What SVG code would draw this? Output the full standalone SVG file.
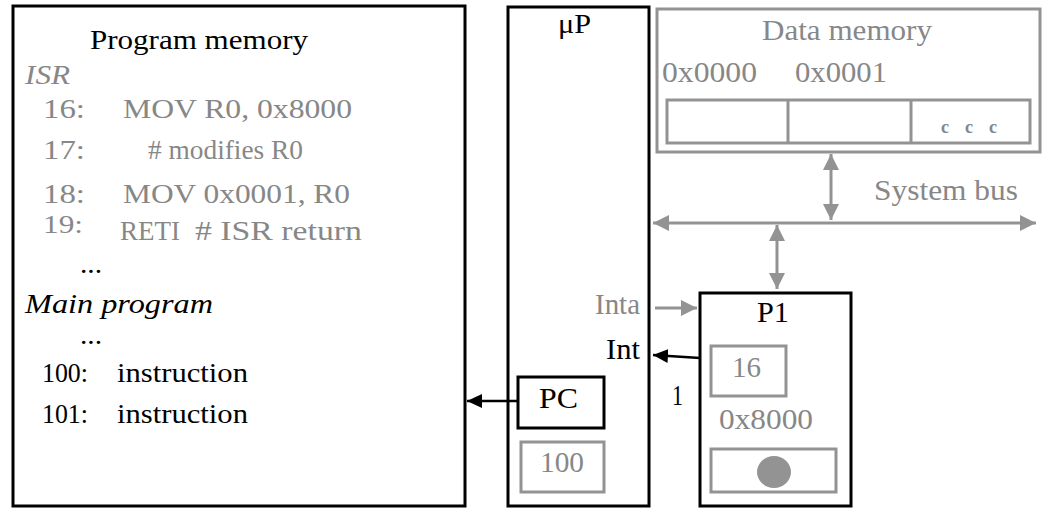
<svg xmlns="http://www.w3.org/2000/svg" width="1045" height="508" viewBox="0 0 1045 508">
<style>
text{font-family:"Liberation Serif","Times New Roman",serif;font-size:29px}
.pm{font-size:28px}
.k{fill:#000}
.g{fill:#878787}
.i{font-style:italic}
.bk{fill:none;stroke:#000;stroke-width:3}
.bg{fill:none;stroke:#939393;stroke-width:3}
.cg{fill:none;stroke:#939393;stroke-width:3}
.ck{fill:none;stroke:#000;stroke-width:2.5}
</style>
<defs>
<marker id="ag" markerUnits="userSpaceOnUse" markerWidth="16" markerHeight="16" refX="15" refY="7.5" orient="auto-start-reverse" viewBox="0 0 15 15">
<path d="M0,0 L15,7.5 L0,15 z" fill="#939393"/>
</marker>
<marker id="ak" markerUnits="userSpaceOnUse" markerWidth="15" markerHeight="14" refX="14" refY="6.5" orient="auto" viewBox="0 0 14 13">
<path d="M0,0 L14,6.5 L0,13 z" fill="#000"/>
</marker>
</defs>
<rect width="1045" height="508" fill="#fff"/>

<g id="program-memory">
<rect class="bk" x="13" y="6" width="452" height="500"/>
<text class="pm k" x="90" y="49" textLength="218" lengthAdjust="spacingAndGlyphs">Program memory</text>
<text class="pm g i" x="25" y="84" textLength="45" lengthAdjust="spacingAndGlyphs">ISR</text>
<text class="pm g" x="43" y="118" textLength="42" lengthAdjust="spacingAndGlyphs">16:</text>
<text class="pm g" x="123" y="118" textLength="229" lengthAdjust="spacingAndGlyphs">MOV R0, 0x8000</text>
<text class="pm g" x="43" y="159" textLength="42" lengthAdjust="spacingAndGlyphs">17:</text>
<text class="pm g" x="148" y="159" textLength="155" lengthAdjust="spacingAndGlyphs"># modifies R0</text>
<text class="pm g" x="43" y="203" textLength="42" lengthAdjust="spacingAndGlyphs">18:</text>
<text class="pm g" x="123" y="203" textLength="227" lengthAdjust="spacingAndGlyphs">MOV 0x0001, R0</text>
<text class="pm g" x="43" y="233" textLength="40" lengthAdjust="spacingAndGlyphs" style="font-size:26px">19:</text>
<text class="pm g" x="120" y="240" textLength="60" lengthAdjust="spacingAndGlyphs">RETI</text>
<text class="pm g" x="195" y="240" textLength="167" lengthAdjust="spacingAndGlyphs"># ISR return</text>
<text class="pm k" x="80" y="273" textLength="22" lengthAdjust="spacingAndGlyphs">...</text>
<text class="pm k i" x="25" y="313" textLength="188" lengthAdjust="spacingAndGlyphs">Main program</text>
<text class="pm k" x="80" y="344" textLength="22" lengthAdjust="spacingAndGlyphs">...</text>
<text class="pm k" x="42" y="382" textLength="46" lengthAdjust="spacingAndGlyphs">100:</text>
<text class="pm k" x="117" y="382" textLength="131" lengthAdjust="spacingAndGlyphs">instruction</text>
<text class="pm k" x="42" y="423" textLength="46" lengthAdjust="spacingAndGlyphs">101:</text>
<text class="pm k" x="117" y="423" textLength="131" lengthAdjust="spacingAndGlyphs">instruction</text>
</g>

<g id="microprocessor">
<rect class="bk" x="508" y="7" width="141" height="499"/>
<text class="k" x="558" y="33" textLength="33" lengthAdjust="spacingAndGlyphs" style="font-size:27px">μP</text>
<text class="g" x="595" y="314" textLength="45" lengthAdjust="spacingAndGlyphs">Inta</text>
<text class="k" x="606" y="359" textLength="34" lengthAdjust="spacingAndGlyphs">Int</text>
</g>

<g id="pc">
<rect class="bk" x="518" y="377" width="86" height="51"/>
<text class="k" x="539" y="408" textLength="39" lengthAdjust="spacingAndGlyphs">PC</text>
</g>

<g id="pc-value">
<rect class="bg" x="521" y="442" width="83" height="50"/>
<text class="g" x="540" y="472" textLength="44" lengthAdjust="spacingAndGlyphs">100</text>
</g>

<g id="data-memory">
<rect class="bg" x="657" y="9" width="383" height="143"/>
<text class="g" x="762" y="40" textLength="170" lengthAdjust="spacingAndGlyphs">Data memory</text>
<text class="g" x="662" y="82" textLength="95" lengthAdjust="spacingAndGlyphs">0x0000</text>
<text class="g" x="795" y="82" textLength="92" lengthAdjust="spacingAndGlyphs">0x0001</text>
<rect class="bg" x="667" y="100" width="363" height="43"/>
<line class="cg" x1="788" y1="100" x2="788" y2="143"/>
<line class="cg" x1="911" y1="100" x2="911" y2="143"/>
<text class="g" x="941" y="133" style="font-size:18px;font-weight:bold">c</text>
<text class="g" x="965" y="133" style="font-size:18px;font-weight:bold">c</text>
<text class="g" x="989" y="133" style="font-size:18px;font-weight:bold">c</text>
</g>

<g id="p1">
<rect class="bk" x="700" y="293" width="151" height="213"/>
<text class="k" x="757" y="322" textLength="32" lengthAdjust="spacingAndGlyphs">P1</text>
<rect class="bg" x="711" y="346" width="75" height="50"/>
<text class="g" x="732" y="377" textLength="29" lengthAdjust="spacingAndGlyphs">16</text>
<text class="g" x="719" y="429" textLength="94" lengthAdjust="spacingAndGlyphs">0x8000</text>
<rect class="bg" x="711" y="449" width="125" height="43"/>
<ellipse cx="774" cy="472" rx="17" ry="16" fill="#939393"/>
</g>

<g id="system-bus-label">
<text class="g" x="874" y="200" textLength="144" lengthAdjust="spacingAndGlyphs">System bus</text>
</g>

<g id="connectors">
<line class="cg" x1="653" y1="223" x2="1036" y2="223" marker-start="url(#ag)" marker-end="url(#ag)"/>
<line class="cg" x1="831" y1="154" x2="831" y2="220" marker-start="url(#ag)" marker-end="url(#ag)"/>
<line class="cg" x1="777" y1="225" x2="777" y2="289" marker-start="url(#ag)" marker-end="url(#ag)"/>
<line class="cg" x1="655" y1="308" x2="697" y2="308" marker-end="url(#ag)"/>
<line class="ck" x1="700" y1="358" x2="653" y2="355" marker-end="url(#ak)"/>
<text class="k" x="672" y="405" textLength="11" lengthAdjust="spacingAndGlyphs">1</text>
<line class="ck" x1="518" y1="401" x2="467" y2="401" marker-end="url(#ak)"/>
</g>
</svg>
